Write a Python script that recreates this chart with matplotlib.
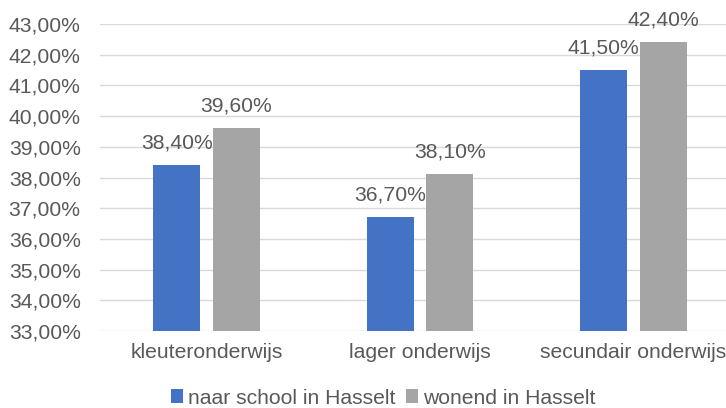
import matplotlib.pyplot as plt
import numpy as np

plt.rcParams['font.family'] = ['Liberation Sans', 'DejaVu Sans']

categories = ['kleuteronderwijs', 'lager onderwijs', 'secundair onderwijs']
naar_school = [38.4, 36.7, 41.5]
wonend = [39.6, 38.1, 42.4]
series_names = ['naar school in Hasselt', 'wonend in Hasselt']
yticks = np.arange(33, 44, 1)

blauw = '#4472C4'
grijs = '#A5A5A5'
tekst = '#595959'
fs = 15.2

def pct(v):
    return f'{v:.2f}'.replace('.', ',') + '%'

fig = plt.figure(figsize=(7.26, 4.08), dpi=100)
ax = fig.add_axes([100/726, (408-331)/408, 640/726, 307/408])

x = np.arange(len(categories))
w = 0.22
off = 0.14
b1 = ax.bar(x - off, naar_school, w, color=blauw, label=series_names[0], zorder=3)
b2 = ax.bar(x + off, wonend, w, color=grijs, label=series_names[1], zorder=3)

for bars, vals in [(b1, naar_school), (b2, wonend)]:
    for r, v in zip(bars, vals):
        ax.annotate(pct(v), (r.get_x() + r.get_width()/2, v), xytext=(0, 9),
                    textcoords='offset points', ha='center', va='bottom',
                    fontsize=fs, color=tekst)

ax.set_ylim(33, 43)
ax.set_xlim(-0.5, 2.5)
ax.set_yticks(yticks)
ax.set_yticklabels([pct(v) for v in yticks])
ax.set_xticks(x)
ax.set_xticklabels(categories)
ax.tick_params(axis='y', length=0, pad=14, labelsize=fs, labelcolor=tekst)
ax.tick_params(axis='x', length=0, pad=9, labelsize=fs, labelcolor=tekst)
ax.grid(axis='y', color='#D9D9D9', linewidth=1, zorder=0)
for s in ax.spines.values():
    s.set_visible(False)

fig.legend(loc='center', bbox_to_anchor=(383/726, 1 - 398/408), ncol=2, frameon=False,
           fontsize=fs, labelcolor=tekst, handlelength=0.6, handleheight=0.6,
           handletextpad=0.2, columnspacing=0.5)

fig.savefig('out.png', dpi=100)
